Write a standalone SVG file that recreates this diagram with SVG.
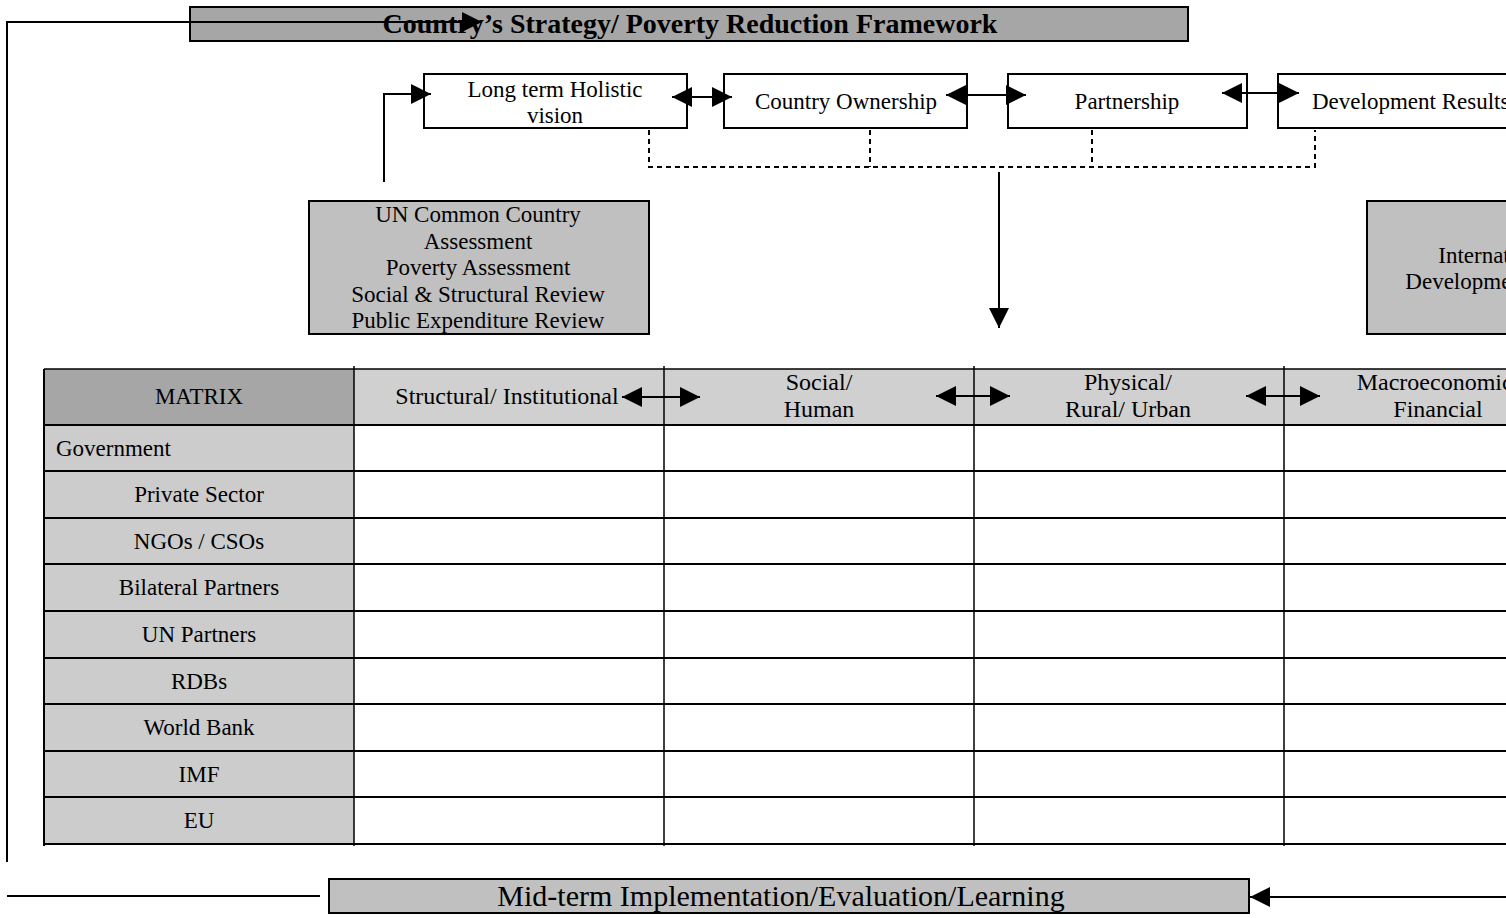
<svg xmlns="http://www.w3.org/2000/svg" width="1506" height="918" viewBox="0 0 1506 918">
<style>
.t{font-family:"Liberation Serif","Times New Roman",serif;font-size:23px;fill:#000}
.h{font-size:24px}
.c{text-anchor:middle}
.box{stroke:#000;stroke-width:2}
.ln{stroke:#000;stroke-width:2;fill:none}
.dash{stroke:#000;stroke-width:2;fill:none;stroke-dasharray:5,4}
.grid{stroke:#000;stroke-width:2}
.vgrid{stroke:#000;stroke-width:1.5}
</style>
<defs>
<marker id="ah" markerUnits="userSpaceOnUse" markerWidth="20" markerHeight="20" viewBox="0 0 18 18" refX="18" refY="9" orient="auto-start-reverse">
<path d="M0,0 L18,9 L0,18 z" fill="#000"/>
</marker>
</defs>
<rect width="1506" height="918" fill="#fff"/>

<g id="banner">
<rect class="box" x="190" y="7" width="998" height="34" fill="#a6a6a6"/>
<text class="t c" x="690" y="33" style="font-weight:bold;font-size:28px">Country’s Strategy/ Poverty Reduction Framework</text>
</g>

<g id="box-longterm">
<rect class="box" x="424" y="74" width="263" height="54" fill="#fff"/>
<text class="t c" x="555" y="97">Long term Holistic</text>
<text class="t c" x="555" y="123">vision</text>
</g>
<g id="box-ownership">
<rect class="box" x="724" y="74" width="243" height="54" fill="#fff"/>
<text class="t c" x="846" y="109">Country Ownership</text>
</g>
<g id="box-partnership">
<rect class="box" x="1008" y="74" width="239" height="54" fill="#fff"/>
<text class="t c" x="1127" y="109">Partnership</text>
</g>
<g id="box-results">
<rect class="box" x="1278" y="74" width="262" height="54" fill="#fff"/>
<text class="t" x="1312" y="109">Development Results</text>
</g>

<g id="box-un">
<rect class="box" x="309" y="201" width="340" height="133" fill="#c0c0c0"/>
<text class="t c" x="478" y="222">UN Common Country</text>
<text class="t c" x="478" y="249">Assessment</text>
<text class="t c" x="478" y="275">Poverty Assessment</text>
<text class="t c" x="478" y="302">Social &amp; Structural Review</text>
<text class="t c" x="478" y="328">Public Expenditure Review</text>
</g>

<g id="box-intl">
<rect class="box" x="1367" y="201" width="240" height="133" fill="#c0c0c0"/>
<text class="t c" x="1497" y="263">International</text>
<text class="t c" x="1497" y="289">Development Goals</text>
</g>

<g id="matrix">
<rect x="44" y="369" width="310" height="56" fill="#a6a6a6"/>
<rect x="354" y="369" width="1152" height="56" fill="#d0d0d0"/>
<rect x="44" y="425" width="310" height="419" fill="#cccccc"/>
<g id="grid">
<line class="vgrid" x1="44" y1="369" x2="1506" y2="369"/>
<line class="grid" x1="44" y1="425" x2="1506" y2="425"/>
<line class="grid" x1="44" y1="471" x2="1506" y2="471"/>
<line class="grid" x1="44" y1="518" x2="1506" y2="518"/>
<line class="grid" x1="44" y1="564" x2="1506" y2="564"/>
<line class="grid" x1="44" y1="611" x2="1506" y2="611"/>
<line class="grid" x1="44" y1="658" x2="1506" y2="658"/>
<line class="grid" x1="44" y1="704" x2="1506" y2="704"/>
<line class="grid" x1="44" y1="751" x2="1506" y2="751"/>
<line class="grid" x1="44" y1="797" x2="1506" y2="797"/>
<line class="grid" x1="44" y1="844" x2="1506" y2="844"/>
<line class="grid" x1="44" y1="369" x2="44" y2="846"/>
<line class="vgrid" x1="354" y1="366" x2="354" y2="846"/>
<line class="vgrid" x1="664" y1="366" x2="664" y2="846"/>
<line class="vgrid" x1="974" y1="366" x2="974" y2="846"/>
<line class="vgrid" x1="1284" y1="366" x2="1284" y2="846"/>
</g>
<text class="t c" x="199" y="404">MATRIX</text>
<text class="t h c" x="507" y="404">Structural/ Institutional</text>
<text class="t h c" x="819" y="390">Social/</text>
<text class="t h c" x="819" y="417">Human</text>
<text class="t h c" x="1128" y="390">Physical/</text>
<text class="t h c" x="1128" y="417">Rural/ Urban</text>
<text class="t h c" x="1438" y="390">Macroeconomic/</text>
<text class="t h c" x="1438" y="417">Financial</text>
<text class="t" x="56" y="456">Government</text>
<text class="t c" x="199" y="502">Private Sector</text>
<text class="t c" x="199" y="549">NGOs / CSOs</text>
<text class="t c" x="199" y="595">Bilateral Partners</text>
<text class="t c" x="199" y="642">UN Partners</text>
<text class="t c" x="199" y="689">RDBs</text>
<text class="t c" x="199" y="735">World Bank</text>
<text class="t c" x="199" y="782">IMF</text>
<text class="t c" x="199" y="828">EU</text>
</g>

<g id="box-midterm">
<rect class="box" x="329" y="879" width="920" height="34" fill="#c0c0c0"/>
<text class="t c" x="781" y="906" style="font-size:30px">Mid-term Implementation/Evaluation/Learning</text>
</g>

<g id="connectors">
<path class="ln" d="M7,862 V22 H482" marker-end="url(#ah)"/>
<path class="ln" d="M384,182 V94 H431" marker-end="url(#ah)"/>
<line class="ln" x1="672" y1="97" x2="732" y2="97" marker-start="url(#ah)" marker-end="url(#ah)"/>
<line class="ln" x1="946" y1="95" x2="1026" y2="95" marker-start="url(#ah)" marker-end="url(#ah)"/>
<line class="ln" x1="1222" y1="93" x2="1299" y2="93" marker-start="url(#ah)" marker-end="url(#ah)"/>
<path class="dash" d="M649,130 V167 H1315 V130"/>
<path class="dash" d="M870,130 V167"/>
<path class="dash" d="M1092,130 V167"/>
<line class="ln" x1="999" y1="172" x2="999" y2="328" marker-end="url(#ah)"/>
<line class="ln" x1="622" y1="397" x2="700" y2="397" marker-start="url(#ah)" marker-end="url(#ah)"/>
<line class="ln" x1="936" y1="396" x2="1010" y2="396" marker-start="url(#ah)" marker-end="url(#ah)"/>
<line class="ln" x1="1246" y1="396" x2="1320" y2="396" marker-start="url(#ah)" marker-end="url(#ah)"/>
<line class="ln" x1="7" y1="896" x2="320" y2="896"/>
<line class="ln" x1="1506" y1="897" x2="1250" y2="897" marker-end="url(#ah)"/>
</g>
</svg>
